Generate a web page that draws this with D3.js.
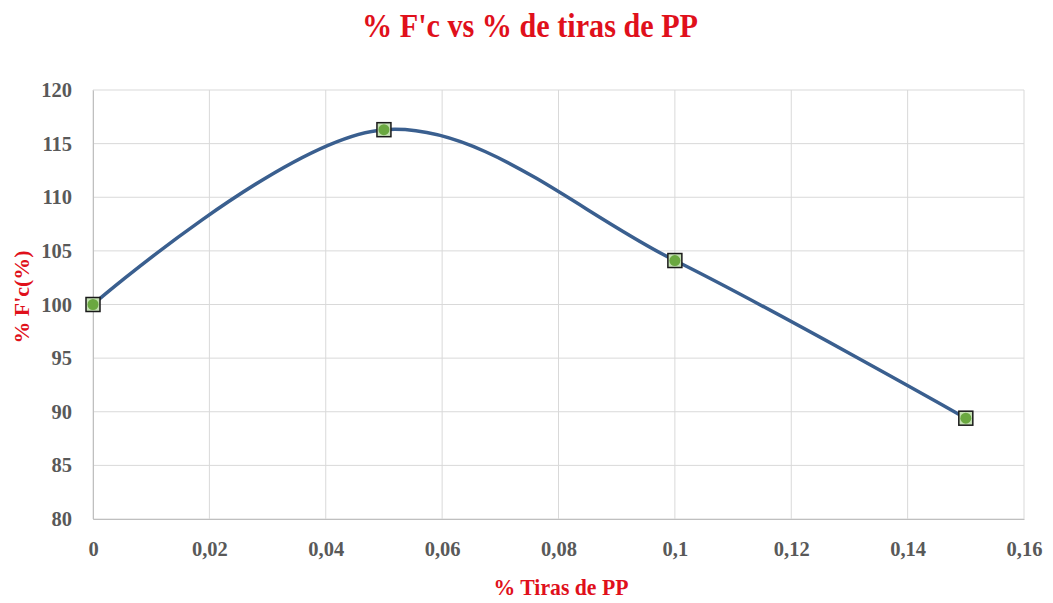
<!DOCTYPE html>
<html>
<head>
<meta charset="utf-8">
<script src="https://cdn.jsdelivr.net/npm/d3@7"></script>
<style>
  body { margin: 0; background: #fff; }
</style>
</head>
<body>
<script>
// data
let tiras = [0, 0.05, 0.1, 0.15];
let fc = [100, 116.3, 104.1, 89.4];
let xTicks = [0, 0.02, 0.04, 0.06, 0.08, 0.1, 0.12, 0.14, 0.16];
let yTicks = [80, 85, 90, 95, 100, 105, 110, 115, 120];

let svg = d3.select("body").append("svg")
	.attr("width", 1053)
	.attr("height", 603);

let margin = { top: 90, right: 29, bottom: 84, left: 93 };
let innerWidth = 1053 - margin.left - margin.right;
let innerHeight = 603 - margin.top - margin.bottom;

let scaleX = d3.scaleLinear().domain([0, 0.16]).range([0, innerWidth]);
let scaleY = d3.scaleLinear().domain([80, 120]).range([innerHeight, 0]);

let serif = "'Liberation Serif', 'Times New Roman', serif";
let red = "#e0101b";

let g = svg.append("g")
	.attr("transform", `translate(${margin.left}, ${margin.top})`);

//gridlines
g.append("g")
	.selectAll("line")
	.data(yTicks)
	.join("line")
	.attr("x1", 0).attr("x2", innerWidth)
	.attr("y1", d => scaleY(d)).attr("y2", d => scaleY(d))
	.attr("stroke", "#d9d9d9");

g.append("g")
	.selectAll("line")
	.data(xTicks)
	.join("line")
	.attr("y1", 0).attr("y2", innerHeight)
	.attr("x1", d => scaleX(d)).attr("x2", d => scaleX(d))
	.attr("stroke", "#d9d9d9");

let fmt = d => String(d).replace(".", ",");

let xAxis = d3.axisBottom(scaleX)
	.tickValues(xTicks)
	.tickSize(0)
	.tickPadding(22)
	.tickFormat(fmt);

let yAxis = d3.axisLeft(scaleY)
	.tickValues(yTicks)
	.tickSize(0)
	.tickPadding(21);

let xG = g.append("g")
	.attr("transform", `translate(0, ${innerHeight})`)
	.call(xAxis);

let yG = g.append("g").call(yAxis);

[xG, yG].forEach(a => {
	a.select(".domain").attr("stroke", "#bfbfbf");
	a.selectAll("text")
		.attr("font-family", serif)
		.attr("font-weight", "bold")
		.attr("font-size", 20.5)
		.attr("fill", "#595959");
});

//the smooth line
let pts = tiras.map((t, i) => [t, fc[i]]);

let line = d3.line()
	.x(d => scaleX(d[0]))
	.y(d => scaleY(d[1]))
	.curve(d3.curveCardinal.tension(0));

g.append("path")
	.datum(pts)
	.attr("fill", "none")
	.attr("stroke", "#3a5f8f")
	.attr("stroke-width", 3.5)
	.attr("d", line);

//markers
let mk = g.append("g")
	.selectAll("g")
	.data(pts)
	.join("g")
	.attr("transform", d => `translate(${scaleX(d[0])}, ${scaleY(d[1])})`);

mk.append("rect")
	.attr("x", -7).attr("y", -7)
	.attr("width", 14).attr("height", 14)
	.attr("fill", "#c5e0b4")
	.attr("stroke", "#1a1a1a")
	.attr("stroke-width", 1.5);

mk.append("circle")
	.attr("r", 5.5)
	.attr("fill", "#6aa840");

//titles
svg.append("text")
	.attr("x", 530)
	.attr("y", 37)
	.attr("text-anchor", "middle")
	.attr("font-family", serif)
	.attr("font-weight", "bold")
	.attr("font-size", 34)
	.attr("fill", red)
	.attr("textLength", 336)
	.attr("lengthAdjust", "spacingAndGlyphs")
	.text("% F'c  vs % de tiras de PP");

svg.append("text")
	.attr("transform", "translate(29, 297) rotate(-90)")
	.attr("text-anchor", "middle")
	.attr("font-family", serif)
	.attr("font-weight", "bold")
	.attr("font-size", 22)
	.attr("fill", red)
	.attr("textLength", 93)
	.attr("lengthAdjust", "spacingAndGlyphs")
	.text("% F'c(%)");

svg.append("text")
	.attr("x", 561)
	.attr("y", 595)
	.attr("text-anchor", "middle")
	.attr("font-family", serif)
	.attr("font-weight", "bold")
	.attr("font-size", 23)
	.attr("fill", red)
	.attr("textLength", 135)
	.attr("lengthAdjust", "spacingAndGlyphs")
	.text("% Tiras de PP");
</script>
</body>
</html>
